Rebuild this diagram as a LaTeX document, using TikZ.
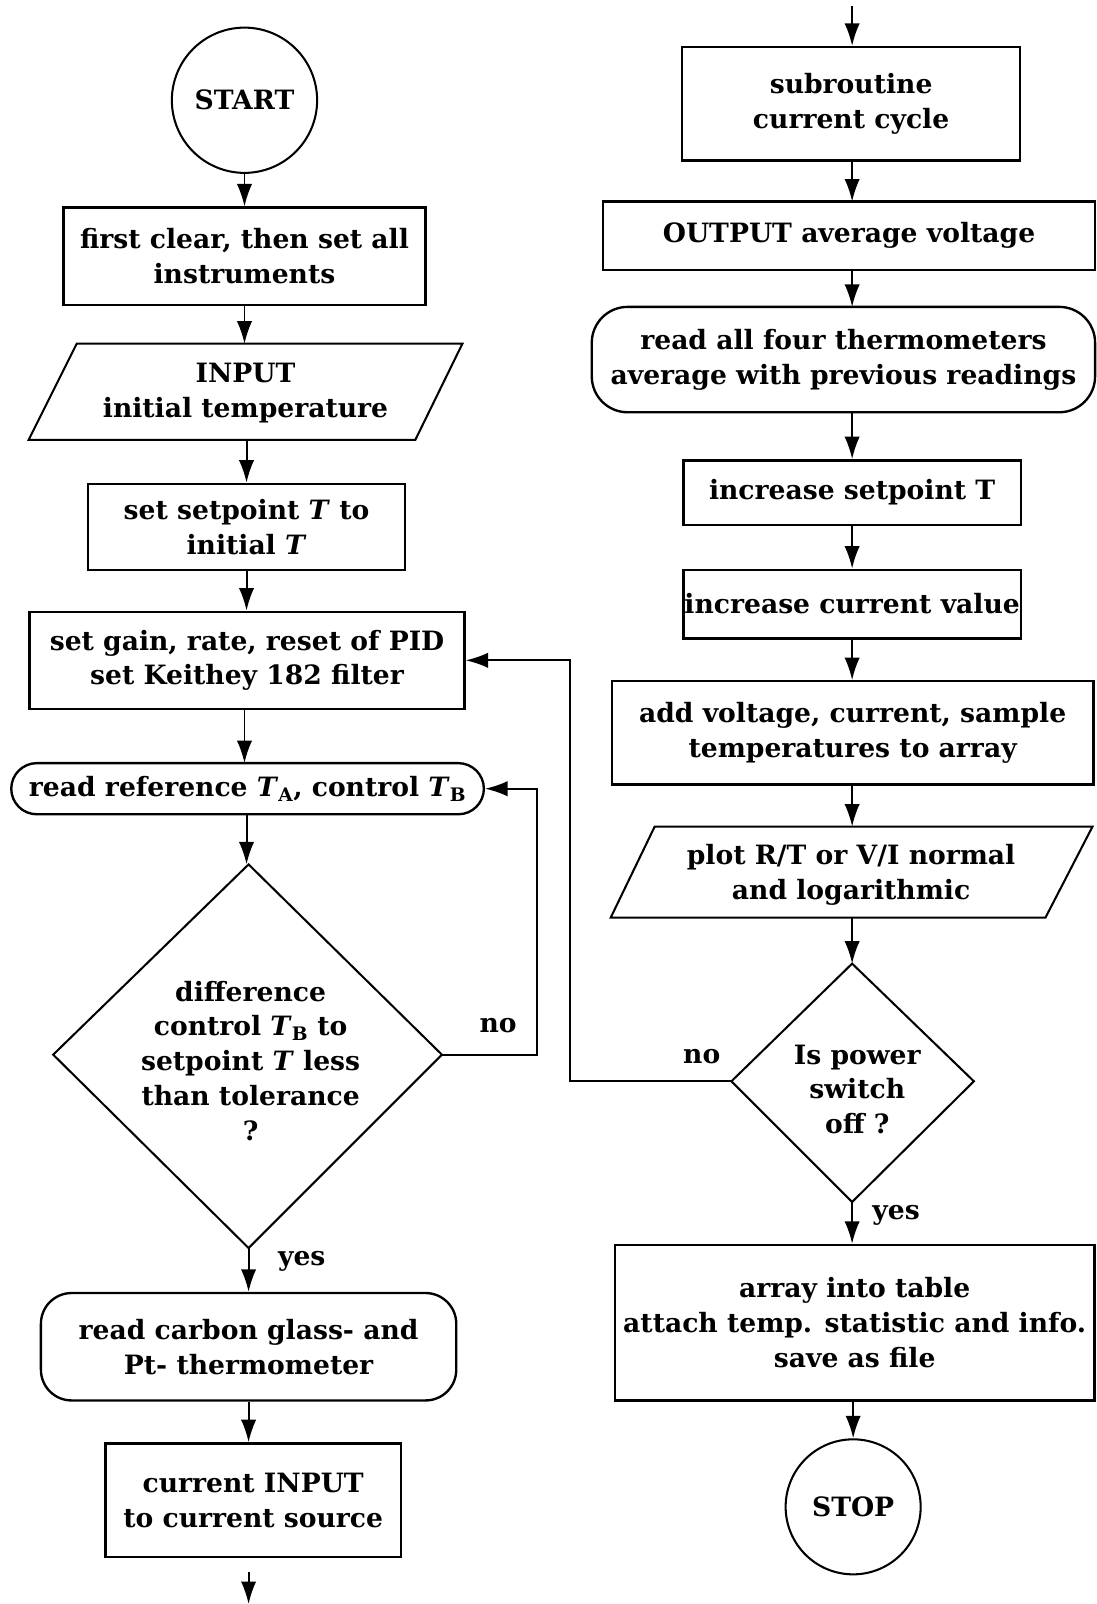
\documentclass[tikz,border=0pt]{standalone}
\usepackage{fontspec}
\setmainfont{DejaVu Serif}
\usetikzlibrary{arrows.meta,calc}
\newcommand\dfont{\fontsize{26}{34}\selectfont\bfseries}
\begin{document}
\begin{tikzpicture}[x=1pt,y=-1pt,
  every node/.style={font=\dfont},
  box/.style={draw, line width=2.3pt, inner sep=0pt, align=center},
  rbox/.style={box, rounded corners=#1},
  term/.style={draw, circle, line width=2pt, inner sep=0pt, minimum size=#1},
  txt/.style={inner sep=0pt, align=center},
  shp/.style={line width=2pt, line join=miter},
  arr/.style={line width=1.9pt, -{Latex[length=22pt,width=15pt]}},
  ln/.style={line width=1.9pt}]
\useasboundingbox (0,0) rectangle (1072,1568);

% ---------------- left column ----------------
\node[term=142pt] (start) at (239,98) {START};
\node[box, minimum width=354pt, minimum height=95pt] (b1) at (239,250.5)
  {first clear, then set all\\instruments};
% INPUT parallelogram
\coordinate (p1a) at (75,336);
\coordinate (p1b) at (452,336);
\coordinate (p1c) at (406,430);
\coordinate (p1d) at (28,430);
\draw[shp] (p1a) -- (p1b) -- (p1c) -- (p1d) -- cycle;
\node[txt, minimum height=94pt] (in) at (240,384) {INPUT\\initial temperature};
\node[box, minimum width=310pt, minimum height=84pt] (b2) at (241,515)
  {set setpoint \textit{T} to\\initial \textit{T}};
\node[box, minimum width=425pt, minimum height=95pt] (b3) at (241.5,645.5)
  {set gain, rate, reset of PID\\set Keithey 182 filter};
\node[rbox=25pt, minimum width=462pt, minimum height=50pt] (r1) at (242,771)
  {read reference \textit{T}\textsubscript{A}, control \textit{T}\textsubscript{B}};
% decision 1
\coordinate (d1t) at (243,845);
\coordinate (d1l) at (52,1031);
\coordinate (d1r) at (432,1031);
\coordinate (d1b) at (243,1220);
\draw[shp] (d1t) -- (d1r) -- (d1b) -- (d1l) -- cycle;
\node[txt] (d1) at (245,1037)
  {difference\\control \textit{T}\textsubscript{B} to\\setpoint \textit{T} less\\than tolerance\\?};
\node[txt] (no1) at (487,1003) {no};
\node[txt] (yes1) at (295,1233) {yes};
\node[rbox=30pt, minimum width=406pt, minimum height=105pt] (r2) at (243,1316.5)
  {read carbon glass- and\\Pt- thermometer};
\node[box, minimum width=289pt, minimum height=111pt] (b4) at (247.5,1466.5)
  {current INPUT\\to current source};
\coordinate (le1) at (243,1537);
\coordinate (le2) at (243,1568);

\draw[arr] (start.south) -- (start.south |- b1.north);
\draw[arr] (b1.south) -- (b1.south |- p1a);
\draw[arr] (241,430) -- (b2.north);
\draw[arr] (b2.south) -- (b2.south |- b3.north);
\draw[arr] (239,693) -- (239,746);
\draw[arr] (241,796) -- (d1t -| 241,0);
\draw[arr] (d1b) -- (d1b |- r2.north);
\draw[arr] (r2.south) -- (r2.south |- b4.north);
\draw[arr] (le1) -- (le2);
\coordinate (lp1) at (525,1031);
\draw[arr] (d1r) -- (lp1) |- (r1.east);

% ---------------- right column ----------------
\coordinate (rt) at (833,6);
\node[box, minimum width=330pt, minimum height=111pt] (sub) at (832,101.5)
  {subroutine\\current cycle};
\node[box, minimum width=481pt, minimum height=67pt] (out) at (830,230.5)
  {OUTPUT average voltage};
\node[rbox=35pt, minimum width=492pt, minimum height=103pt] (r3) at (824.5,351.5)
  {read all four thermometers\\average with previous readings};
\node[box, minimum width=330pt, minimum height=63pt] (inc1) at (833,481.5)
  {increase setpoint T};
\node[box, minimum width=330pt, minimum height=67pt] (inc2) at (833,590.5)
  {increase current value};
\node[box, minimum width=471pt, minimum height=101pt] (add) at (833.5,716.5)
  {add voltage, current, sample\\temperatures to array};
% plot parallelogram
\coordinate (p2a) at (640,808);
\coordinate (p2b) at (1068,808);
\coordinate (p2c) at (1022,897);
\coordinate (p2d) at (597,897);
\draw[shp] (p2a) -- (p2b) -- (p2c) -- (p2d) -- cycle;
\node[txt, minimum height=89pt] (plot) at (832,855)
  {plot R/T or V/I normal\\and logarithmic};
% decision 2
\coordinate (d2t) at (833,942);
\coordinate (d2l) at (715,1057);
\coordinate (d2r) at (952,1057);
\coordinate (d2b) at (833,1175);
\draw[shp] (d2t) -- (d2r) -- (d2b) -- (d2l) -- cycle;
\node[txt] (d2) at (838,1065) {Is power\\switch\\off ?};
\node[txt] (no2) at (686,1033) {no};
\node[txt] (yes2) at (876,1188) {yes};
\node[box, minimum width=469pt, minimum height=152pt] (arr) at (835.5,1293)
  {array into table\\attach temp. statistic and info.\\save as file};
\node[term=132pt] (stop) at (834,1473) {STOP};

\draw[arr] (rt) -- (rt |- sub.north);
\draw[arr] (833,157) -- (833,197);
\draw[arr] (833,264) -- (833,300);
\draw[arr] (833,403) -- (inc1.north);
\draw[arr] (inc1.south) -- (inc2.north);
\draw[arr] (inc2.south) -- (inc2.south |- add.north);
\draw[arr] (833,767) -- (833,808);
\draw[arr] (833,897) -- (d2t);
\draw[arr] (d2b) -- (d2b |- arr.north);
\draw[arr] (834,1369) -- (stop.north);
\coordinate (lp2) at (557,1057);
\draw[arr] (d2l) -- (lp2) |- (b3.east);
\end{tikzpicture}
\end{document}
